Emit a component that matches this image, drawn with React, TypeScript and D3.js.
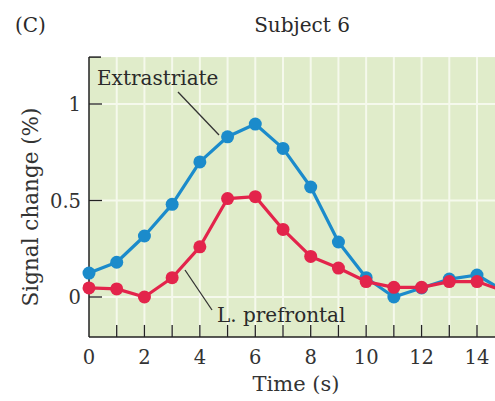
import React from "react";
import * as d3 from "d3";

// Time axis (seconds) and signal change (%) for two regions
const times = [0, 1, 2, 3, 4, 5, 6, 7, 8, 9, 10, 11, 12, 13, 14, 15];
const extrastriate = [0.124, 0.18, 0.316, 0.48, 0.7, 0.83, 0.896, 0.77, 0.57, 0.285, 0.1, 0.0, 0.047, 0.093, 0.114, 0.03];
const prefrontal = [0.047, 0.042, 0.0, 0.1, 0.26, 0.51, 0.52, 0.35, 0.21, 0.15, 0.08, 0.05, 0.05, 0.08, 0.08, 0.03];
const xTicks = [0, 2, 4, 6, 8, 10, 12, 14];
const xMinorTicks = d3.range(0, 16);
const yTicks = [0, 0.5, 1];
const yTickLabels = ["0", "0.5", "1"];

const W = 495;
const H = 401;
const FONT = "'DejaVu Serif', serif";
const BLUE = "#1b8bcb";
const RED = "#e3244b";

export default function App() {
  const x = d3.scaleLinear().domain([0, 14]).range([89, 477]);
  const y = d3.scaleLinear().domain([0, 1]).range([297, 104]);
  const yBottom = -0.207;
  const yTop = 1.243;
  const left = x(0);
  const bottom = y(yBottom);
  const top = y(yTop);

  const line = d3
    .line<number>()
    .x((_, i) => x(times[i]))
    .y((d) => y(d));

  const series = [
    { values: extrastriate, color: BLUE },
    { values: prefrontal, color: RED },
  ];

  return (
    <svg
      width={W}
      height={H}
      style={{ position: "absolute", left: 0, top: 0, background: "#fff" }}
      fontFamily={FONT}
    >
      <text x={15} y={32} fontSize={20} fill="#2a2a2a">(C)</text>
      <text x={302} y={32} fontSize={20} textAnchor="middle" fill="#2a2a2a">Subject 6</text>

      {/* plot panel */}
      <rect x={left} y={top} width={W - left} height={bottom - top} fill="#e0ecca" />
      {xMinorTicks.slice(1).map((t) => (
        <line key={"vg" + t} x1={x(t)} x2={x(t)} y1={top} y2={bottom} stroke="#f5f9ec" strokeWidth={2} />
      ))}
      {yTicks.map((t) => (
        <line key={"hg" + t} x1={left} x2={W} y1={y(t)} y2={y(t)} stroke="#f5f9ec" strokeWidth={2} />
      ))}

      {/* axes */}
      <line x1={left} x2={left} y1={top} y2={bottom} stroke="#222" strokeWidth={1.5} />
      <line x1={left} x2={left + 12} y1={top} y2={top} stroke="#222" strokeWidth={1.5} />
      <line x1={left} x2={W} y1={bottom} y2={bottom} stroke="#222" strokeWidth={1.5} />
      {xMinorTicks.slice(1).map((t) => (
        <line key={"xt" + t} x1={x(t)} x2={x(t)} y1={bottom} y2={bottom - 12} stroke="#222" strokeWidth={1.3} />
      ))}
      {yTicks.map((t) => (
        <line key={"yt" + t} x1={left} x2={left + 13} y1={y(t)} y2={y(t)} stroke="#222" strokeWidth={1.3} />
      ))}
      {yTicks.map((t, i) => (
        <text key={"yl" + t} x={81} y={y(t) + 7} fontSize={19.5} textAnchor="end" fill="#333">
          {yTickLabels[i]}
        </text>
      ))}
      {xTicks.map((t) => (
        <text key={"xl" + t} x={x(t)} y={364} fontSize={19.5} textAnchor="middle" fill="#333">
          {t}
        </text>
      ))}
      <text x={296} y={391} fontSize={21} textAnchor="middle" fill="#333">Time (s)</text>
      <text
        transform={`translate(38, 207) rotate(-90)`}
        fontSize={21.5}
        textAnchor="middle"
        fill="#333"
      >
        Signal change (%)
      </text>

      {/* data */}
      {series.map((s, si) => (
        <g key={"s" + si}>
          <path d={line(s.values) || ""} fill="none" stroke={s.color} strokeWidth={3.2} strokeLinejoin="round" />
          {s.values.map((v, i) => (
            <circle key={i} cx={x(times[i])} cy={y(v)} r={6.5} fill={s.color} />
          ))}
        </g>
      ))}

      {/* annotations */}
      <text x={97} y={85} fontSize={20} fill="#2a2a2a">Extrastriate</text>
      <line x1={178} y1={92} x2={219} y2={135} stroke="#333" strokeWidth={1.3} />
      <text x={217} y={322} fontSize={20} fill="#2a2a2a">L. prefrontal</text>
      <line x1={185} y1={270} x2={212} y2={310} stroke="#333" strokeWidth={1.3} />
    </svg>
  );
}
